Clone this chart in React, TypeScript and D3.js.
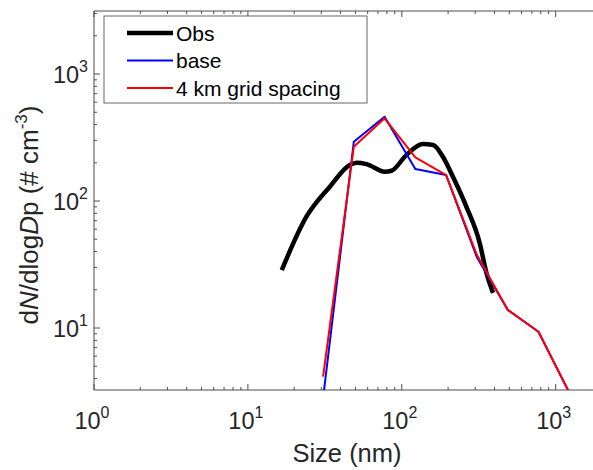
import React from "react";
import * as d3 from "d3";

const obsSize = [16.6, 24.0, 34.1, 45.9, 50.8, 59, 77.6, 85.8, 107, 137, 160, 185, 215, 263, 321, 355, 392];
const obsN = [28.6, 75.2, 129.7, 192, 200, 195, 170, 173, 230, 281, 276, 223, 155, 90, 46.6, 27.1, 18.9];

const modelSize = [30.8, 48.8, 77.3, 122.5, 194.2, 307.8, 487.8, 773.1, 1225.3];
const baseN = [2.8, 293, 461, 179, 160, 36, 13.9, 9.35, 3.1];
const gridN = [4.14, 268, 448, 221, 160, 37.5, 13.9, 9.35, 3.1];

const xTickExps = [0, 1, 2, 3];
const yTickExps = [1, 2, 3];

const legendLabels = ["Obs", "base", "4 km grid spacing"];
const seriesColors = ["#000000", "#0000ff", "#ff0000"];
const seriesWidths = [4.5, 2, 2];

const W = 593;
const H = 470;
const left = 94;
const top = 11;
const bottom = 390;
const right = 602;

export default function App() {
  const x = d3.scaleLog().domain([1, 2000]).range([left, right]);
  const y = d3.scaleLog().domain([3.25, 3135]).range([bottom, top]);

  const line = d3
    .line<[number, number]>()
    .x((d) => x(d[0]))
    .y((d) => y(d[1]));
  const smooth = d3
    .line<[number, number]>()
    .x((d) => x(d[0]))
    .y((d) => y(d[1]))
    .curve(d3.curveMonotoneX);

  const obsPts: [number, number][] = obsSize.map((s, i) => [s, obsN[i]]);
  const basePts: [number, number][] = modelSize.map((s, i) => [s, baseN[i]]);
  const gridPts: [number, number][] = modelSize.map((s, i) => [s, gridN[i]]);

  const axisColor = "#4d4d4d";
  const font = "'Liberation Sans', Arial, sans-serif";

  const xMinor: number[] = [];
  for (let e = 0; e <= 3; e++) {
    for (let m = 2; m <= 9; m++) {
      const v = m * Math.pow(10, e);
      if (v <= 2000) xMinor.push(v);
    }
  }
  const yMinor: number[] = [];
  for (let e = 0; e <= 3; e++) {
    for (let m = 2; m <= 9; m++) {
      const v = m * Math.pow(10, e);
      if (v >= 3.25 && v <= 3135) yMinor.push(v);
    }
  }

  const major = 6;
  const minor = 3;

  return (
    <svg
      width={W}
      height={H}
      style={{ position: "absolute", left: 0, top: 0, background: "#fff" }}
      fontFamily={font}
    >
      <defs>
        <clipPath id="plotclip">
          <rect x={left} y={top} width={right - left} height={bottom - top} />
        </clipPath>
      </defs>

      <line x1={left} x2={W} y1={top} y2={top} stroke={axisColor} strokeWidth={1} />
      <line x1={left} x2={W} y1={bottom} y2={bottom} stroke={axisColor} strokeWidth={1} />
      <line x1={left} x2={left} y1={top} y2={bottom} stroke={axisColor} strokeWidth={1} />

      {xTickExps.map((e) => {
        const px = x(Math.pow(10, e));
        return (
          <g key={"xt" + e}>
            <line x1={px} x2={px} y1={bottom} y2={bottom - major} stroke={axisColor} />
            <line x1={px} x2={px} y1={top} y2={top + major} stroke={axisColor} />
          </g>
        );
      })}
      {xMinor.map((v) => {
        const px = x(v);
        return (
          <g key={"xm" + v}>
            <line x1={px} x2={px} y1={bottom} y2={bottom - minor} stroke={axisColor} />
            <line x1={px} x2={px} y1={top} y2={top + minor} stroke={axisColor} />
          </g>
        );
      })}
      {yTickExps.map((e) => {
        const py = y(Math.pow(10, e));
        return <line key={"yt" + e} x1={left} x2={left + major} y1={py} y2={py} stroke={axisColor} />;
      })}
      {yMinor.map((v) => {
        const py = y(v);
        return <line key={"ym" + v} x1={left} x2={left + minor} y1={py} y2={py} stroke={axisColor} />;
      })}

      {xTickExps.map((e) => {
        const px = x(Math.pow(10, e));
        return (
          <text key={"xl" + e} x={px - 2} y={429} fontSize={23.5} fill="#262626" textAnchor="middle">
            10
            <tspan fontSize={16} dy={-11}>
              {e}
            </tspan>
          </text>
        );
      })}
      {yTickExps.map((e) => {
        const py = y(Math.pow(10, e));
        return (
          <text key={"yl" + e} x={88} y={py + 9} fontSize={23.5} fill="#262626" textAnchor="end">
            10
            <tspan fontSize={16} dy={-11}>
              {e}
            </tspan>
          </text>
        );
      })}

      <g clipPath="url(#plotclip)" fill="none" strokeLinejoin="round">
        <path d={smooth(obsPts) || ""} stroke={seriesColors[0]} strokeWidth={seriesWidths[0]} />
        <path d={line(basePts) || ""} stroke={seriesColors[1]} strokeWidth={seriesWidths[1]} />
        <path d={line(gridPts) || ""} stroke={seriesColors[2]} strokeWidth={seriesWidths[2]} />
      </g>

      <rect x={104} y={16} width={263} height={87} fill="#fff" stroke="#666" strokeWidth={1} />
      {legendLabels.map((lab, i) => {
        const ly = 33 + i * 27.5;
        return (
          <g key={lab}>
            <line x1={127} x2={173} y1={ly} y2={ly} stroke={seriesColors[i]} strokeWidth={seriesWidths[i]} />
            <text x={176} y={ly + 7.5} fontSize={21} fill="#000">
              {lab}
            </text>
          </g>
        );
      })}

      <text x={347} y={462} fontSize={25.5} fill="#262626" textAnchor="middle">
        Size (nm)
      </text>
      <text
        transform="translate(38,215) rotate(-90)"
        fontSize={26}
        fill="#262626"
        textAnchor="middle"
      >
        d<tspan fontStyle="italic">N</tspan>/dlog<tspan fontStyle="italic">D</tspan>p (# cm
        <tspan fontSize={17} dy={-11}>
          -3
        </tspan>
        <tspan dy={11}>)</tspan>
      </text>
    </svg>
  );
}
